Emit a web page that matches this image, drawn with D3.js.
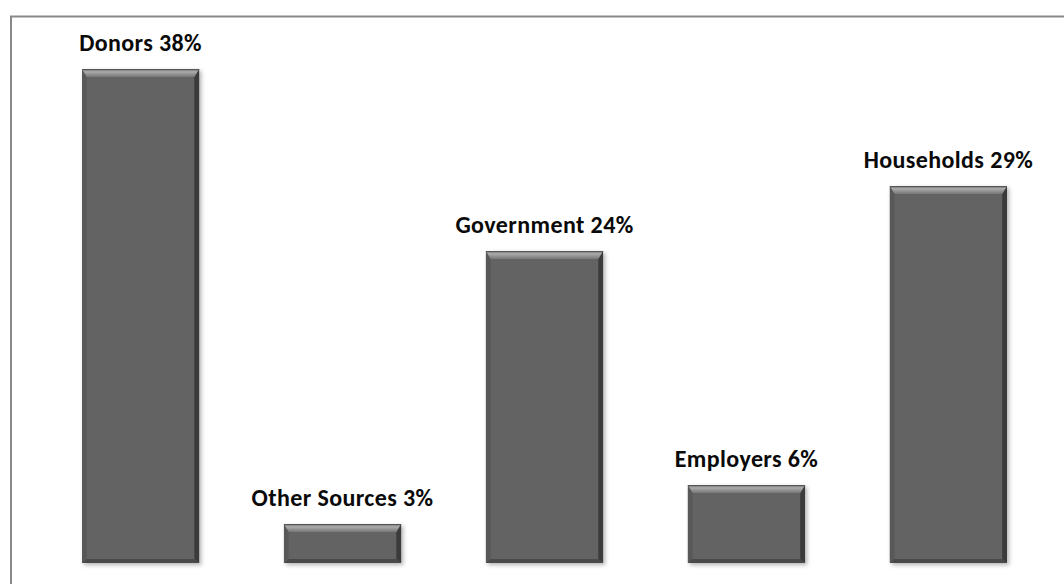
<!DOCTYPE html>
<html lang="en">
<head>
<meta charset="utf-8">
<script src="https://cdnjs.cloudflare.com/ajax/libs/d3/7.8.5/d3.min.js"></script>
<style>
  body { margin: 0; background: #fff; }
  .lbl { font-family: Carlito, Lato, "Open Sans", sans-serif; font-weight: 700; font-size: 24px; letter-spacing: 0.4px; fill: #0a0a0a; }
</style>
</head>
<body>
<script>
// data
var categories = ["Donors", "Other Sources", "Government", "Employers", "Households"];
var shares = [38, 3, 24, 6, 29];

var W = 1064, H = 584;
var base = 563;   // bar baseline
var bev = 8;      // bevel size

var svg = d3.select("body").append("svg")
    .attr("width", W)
    .attr("height", H);

var defs = svg.append("defs");
var topGrad = defs.append("linearGradient")
    .attr("id", "topGrad").attr("x1", 0).attr("y1", 0).attr("x2", 0).attr("y2", 1);
topGrad.append("stop").attr("offset", "0%").attr("stop-color", "#6a6a6a");
topGrad.append("stop").attr("offset", "35%").attr("stop-color", "#ababab");
topGrad.append("stop").attr("offset", "100%").attr("stop-color", "#767676");

var shadow = defs.append("filter").attr("id", "shadow")
    .attr("x", "-10%").attr("y", "-10%").attr("width", "130%").attr("height", "130%");
shadow.append("feDropShadow")
    .attr("dx", 2).attr("dy", 2).attr("stdDeviation", 2)
    .attr("flood-color", "#000").attr("flood-opacity", 0.3);

// frame
svg.append("rect")
    .attr("x", 11).attr("y", 16.5)
    .attr("width", 1200).attr("height", 700)
    .attr("fill", "none")
    .attr("stroke", "#898989")
    .attr("stroke-width", 2);

var x = d3.scaleBand()
    .domain(categories)
    .range([82, 1007])
    .paddingInner(0.42)
    .paddingOuter(0);

var y = d3.scaleLinear()
    .domain([0, 38])
    .range([base, 69]);

var bars = svg.selectAll(".bar")
    .data(categories.map(function(c, i) { return {name: c, v: shares[i]}; }))
    .enter().append("g")
    .attr("class", "bar")
    .attr("filter", "url(#shadow)");

function pts(arr) { return arr.map(function(p) { return p.join(","); }).join(" "); }

bars.each(function(d) {
  var g = d3.select(this);
  var x0 = x(d.name), x1 = x0 + x.bandwidth();
  var y0 = y(d.v), y1 = base;
  var b = Math.min(bev, (y1 - y0) / 3);

  g.append("rect")
      .attr("x", x0).attr("y", y0)
      .attr("width", x1 - x0).attr("height", y1 - y0)
      .attr("fill", "#646464");
  // left bevel
  g.append("polygon")
      .attr("points", pts([[x0, y0], [x0 + b * 0.6, y0 + b], [x0 + b * 0.6, y1 - b * 0.5], [x0, y1]]))
      .attr("fill", "#595959");
  // right bevel
  g.append("polygon")
      .attr("points", pts([[x1, y0], [x1 - b * 0.6, y0 + b], [x1 - b * 0.6, y1 - b * 0.5], [x1, y1]]))
      .attr("fill", "#3a3a3a");
  // bottom bevel
  g.append("polygon")
      .attr("points", pts([[x0, y1], [x0 + b * 0.6, y1 - b * 0.5], [x1 - b * 0.6, y1 - b * 0.5], [x1, y1]]))
      .attr("fill", "#4a4a4a");
  // top bevel
  g.append("polygon")
      .attr("points", pts([[x0, y0], [x0 + b * 0.6, y0 + b], [x1 - b * 0.6, y0 + b], [x1, y0]]))
      .attr("fill", "url(#topGrad)");
  g.append("line")
      .attr("x1", x0).attr("x2", x1)
      .attr("y1", y0 + 0.5).attr("y2", y0 + 0.5)
      .attr("stroke", "#555").attr("stroke-width", 1);
});

svg.selectAll(".lbl")
    .data(categories)
    .enter().append("text")
    .attr("class", "lbl")
    .attr("x", function(d) { return x(d) + x.bandwidth() / 2; })
    .attr("y", function(d, i) { return y(shares[i]) - 18; })
    .attr("text-anchor", "middle")
    .text(function(d, i) { return d + " " + shares[i] + "%"; });
</script>
</body>
</html>
